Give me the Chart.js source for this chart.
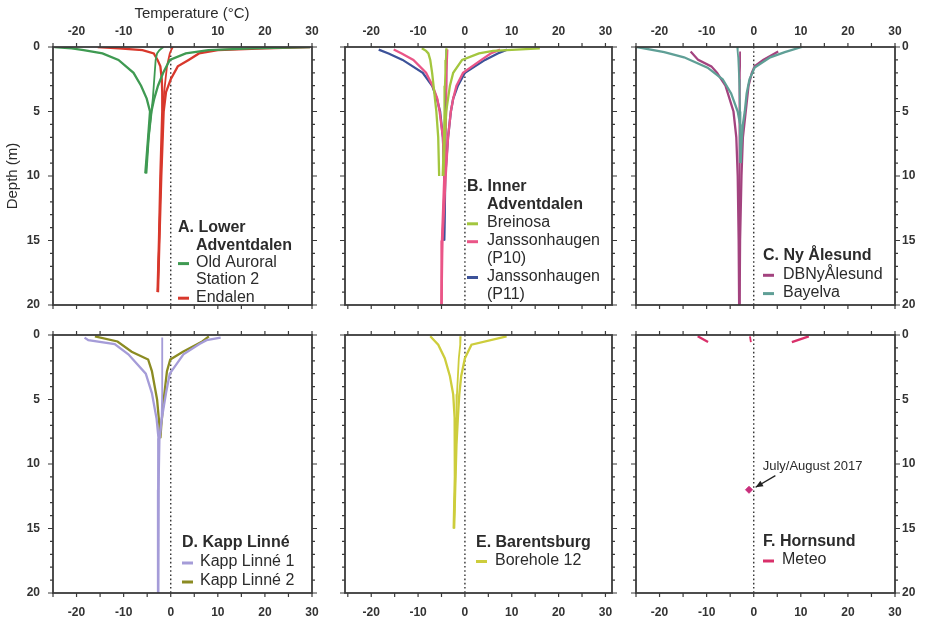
<!DOCTYPE html>
<html>
<head>
<meta charset="utf-8">
<script src="https://cdn.jsdelivr.net/npm/chart.js@4"></script>
<style>
  html, body { margin: 0; padding: 0; background: #fff; }
  #wrap { position: relative; width: 933px; height: 626px; overflow: hidden; }
  #wrap canvas { position: absolute; }
</style>
</head>
<body>
<div id="wrap"></div>
<script>
// Ground temperature envelopes (min / max / mean) vs depth, Svalbard boreholes

// A. Lower Adventdalen
const oldAuroralDepth = [0, 0.1, 0.25, 0.5, 1, 2, 3, 4, 5, 7, 9.8];
const oldAuroralMin   = [-24.7, -21, -18.5, -14.5, -11.1, -7.9, -6.3, -5.1, -4.4, -4.8, -5.4];
const oldAuroralMax   = [29.6, 17, 8, 3.2, -0.2, -1.6, -2.7, -3.5, -4.1, -4.7, -5.2];
const oldAuroralMean  = [-1.5, -1.9, -2.4, -2.9, -3.2, -3.4, -3.6, -3.8, -4.1, -4.7, -5.3];

const endalenDepth = [0, 0.1, 0.25, 0.5, 1, 1.5, 2.5, 3.5, 5, 10, 15, 19];
const endalenMin   = [-15.5, -11, -6, -3.6, -2.8, -2.2, -1.9, -1.8, -1.8, -2.2, -2.5, -2.8];
const endalenMax   = [29.6, 20, 10, 6, 3.8, 1.5, 0, -1.0, -1.5, -2.0, -2.4, -2.7];
const endalenMean  = [0.5, 0.3, 0.1, -0.2, -0.5, -0.8, -1.1, -1.4, -1.6, -2.1, -2.45, -2.75];

// B. Inner Adventdalen
const breinosaDepth = [0.1, 0.3, 0.5, 1, 2, 3, 5, 7, 10];
const breinosaMin   = [-9.2, -8.3, -7.8, -7.4, -7.0, -6.7, -6.1, -5.7, -5.5];
const breinosaMax   = [16, 6, 3, -0.6, -2.5, -3.2, -4.0, -4.3, -4.6];
const breinosaMean  = [-3.9, -4.0, -4.0, -4.1, -4.2, -4.3, -4.4, -4.5, -4.8];

const p10Depth = [0.2, 0.5, 1, 2, 3, 4, 5, 7, 10, 15, 20];
const p10Min   = [-15.2, -13.5, -11.0, -8.3, -6.9, -5.9, -5.4, -4.7, -4.4, -4.9, -5.0];
const p10Max   = [7.5, 5.5, 3.5, -0.4, -1.8, -2.5, -3.0, -3.6, -4.1, -4.8, -5.0];
const p10Mean  = [-3.7, -3.8, -3.8, -3.9, -3.9, -4.0, -4.0, -4.1, -4.3, -4.85, -5.0];

const p11Depth = [0.2, 0.5, 1, 2, 3, 4, 5, 7, 10, 15];
const p11Min   = [-18.4, -16.3, -13.3, -9.0, -7.0, -6.0, -5.3, -4.7, -4.4, -4.5];
const p11Max   = [9, 7, 4.3, 0, -1.5, -2.5, -3.0, -3.6, -4.2, -4.4];
const p11Mean  = [-3.9, -3.9, -4.0, -4.0, -4.0, -4.1, -4.1, -4.2, -4.3, -4.45];

// C. Ny Ålesund
const bayelvaDepth = [0, 0.4, 0.8, 1.6, 2.5, 3.6, 5, 6, 7.5, 9];
const bayelvaMin   = [-24.8, -19, -14.8, -9.8, -6.6, -4.8, -3.4, -2.9, -2.8, -2.8];
const bayelvaMax   = [10.2, 6.6, 3.5, 0.2, -0.9, -1.5, -1.9, -2.3, -2.6, -2.8];
const bayelvaMean  = [-3.5, -3.4, -3.3, -3.2, -3.1, -3.0, -2.9, -2.85, -2.8, -2.8];

const dbNyDepth = [0.35, 1, 1.5, 2, 3, 5, 7, 10, 15, 20];
const dbNyMin   = [-13.4, -11.8, -9.0, -7.8, -6.0, -4.3, -3.7, -3.4, -3.2, -3.1];
const dbNyMax   = [5.2, 2.0, 0.2, -0.4, -1.1, -1.7, -2.3, -2.6, -2.9, -3.0];
const dbNyMean  = [-2.9, -2.9, -2.9, -2.95, -3.0, -3.0, -3.0, -3.05, -3.05, -3.1];

// D. Kapp Linné
const kl1Depth = [0.2, 0.4, 0.7, 1.5, 3, 4.5, 6.5, 8, 12, 20];
const kl1Min   = [-18.3, -17.5, -11.9, -9.0, -5.3, -4.0, -3.0, -2.6, -2.6, -2.7];
const kl1Max   = [10.6, 7.6, 6.1, 2.7, -0.2, -1.0, -1.9, -2.4, -2.6, -2.7];
const kl1Mean  = [-1.8, -1.8, -1.8, -1.8, -1.8, -1.85, -1.95, -2.3, null, null];

const kl2Depth = [0.1, 0.5, 1.3, 1.9, 2.8, 5, 7, 8];
const kl2Min   = [-16.1, -11.3, -8.3, -4.8, -4.0, -2.9, -2.4, -2.3];
const kl2Max   = [8.1, 6.7, 2.6, -0.1, -0.8, -1.5, -2.0, -2.2];

// E. Barentsburg
const bh12Depth = [0.1, 0.75, 1.8, 3.2, 4.6, 6.4, 8.5, 11, 15];
const bh12Min   = [-7.4, -5.7, -4.3, -3.2, -2.5, -2.2, -2.15, -2.15, -2.4];
const bh12Max   = [8.9, 1.4, 0.0, -0.8, -1.2, -1.5, -1.8, -2.0, -2.3];
const bh12Mean  = [-0.9, -1.0, -1.3, -1.5, -1.7, -1.8, -1.95, -2.05, -2.35];

// F. Hornsund
const meteoDepth = [0.1, 0.55];
const meteoMin   = [-11.9, -9.7];
const meteoMax   = [11.7, 8.1];
const meteoMean  = [-0.8, -0.6];
const meteoSummerTemp  = [-1.0];
const meteoSummerDepth = [12];

const xTickLabels = [-20, -10, 0, 10, 20, 30];
const yTickLabels = [0, 5, 10, 15, 20];

const FONT = '"Liberation Sans", Arial, Helvetica, sans-serif';
const INK = '#2b2b2b';

const COLORS = {
  oldAuroral: '#3f9a52',
  endalen: '#d8382c',
  breinosa: '#a3c63e',
  p10: '#ea5587',
  p11: '#3c5299',
  dbNy: '#a3437f',
  bayelva: '#5f9f96',
  kl1: '#a59cd8',
  kl2: '#8b8b22',
  bh12: '#cdcd3c',
  meteo: '#d9306a'
};

function curve(depths, temps, color, width) {
  const pts = [];
  depths.forEach((d, i) => {
    if (temps[i] !== null && temps[i] !== undefined) pts.push({ x: temps[i], y: d });
  });
  return {
    data: pts, borderColor: color, backgroundColor: color,
    borderWidth: width || 2.3, showLine: true, pointRadius: 0, tension: 0, fill: false
  };
}

function borehole(depths, min, max, mean, color) {
  const sets = [curve(depths, min, color), curve(depths, max, color)];
  if (mean) sets.push(curve(depths, mean, color, 1.8));
  return sets;
}

const panels = [
  {
    col: 0, row: 0, L: 53, T: 47, R: 312, B: 305, xmin: -25, xmax: 30,
    datasets: [
      ...borehole(oldAuroralDepth, oldAuroralMin, oldAuroralMax, oldAuroralMean, COLORS.oldAuroral),
      ...borehole(endalenDepth, endalenMin, endalenMax, endalenMean, COLORS.endalen)
    ],
    legend: { x: 178, y: 228, lh: 17.3, indent: 18, rows: [
      { text: 'A. Lower', bold: true },
      { text: 'Adventdalen', bold: true, indent: true },
      { text: 'Old Auroral', color: COLORS.oldAuroral },
      { text: 'Station 2', indent: true },
      { text: 'Endalen', color: COLORS.endalen }
    ] },
    caption: { text: 'Temperature (°C)', x: 192, y: 14 }
  },
  {
    col: 1, row: 0, L: 345, T: 47, R: 612, B: 305, xmin: -25.6, xmax: 31.4,
    datasets: [
      ...borehole(breinosaDepth, breinosaMin, breinosaMax, breinosaMean, COLORS.breinosa),
      ...borehole(p10Depth, p10Min, p10Max, p10Mean, COLORS.p10),
      ...borehole(p11Depth, p11Min, p11Max, p11Mean, COLORS.p11)
    ],
    legend: { x: 467, y: 187, lh: 17.9, indent: 20, rows: [
      { text: 'B. Inner', bold: true },
      { text: 'Adventdalen', bold: true, indent: true },
      { text: 'Breinosa', color: COLORS.breinosa },
      { text: 'Janssonhaugen', color: COLORS.p10 },
      { text: '(P10)', indent: true },
      { text: 'Janssonhaugen', color: COLORS.p11 },
      { text: '(P11)', indent: true }
    ] }
  },
  {
    col: 2, row: 0, L: 636, T: 47, R: 895, B: 305, xmin: -25, xmax: 30,
    datasets: [
      ...borehole(bayelvaDepth, bayelvaMin, bayelvaMax, bayelvaMean, COLORS.bayelva),
      ...borehole(dbNyDepth, dbNyMin, dbNyMax, dbNyMean, COLORS.dbNy)
    ],
    legend: { x: 763, y: 256, lh: 18.3, indent: 20, rows: [
      { text: 'C. Ny Ålesund', bold: true },
      { text: 'DBNyÅlesund', color: COLORS.dbNy },
      { text: 'Bayelva', color: COLORS.bayelva }
    ] }
  },
  {
    col: 0, row: 1, L: 53, T: 335, R: 312, B: 593, xmin: -25, xmax: 30,
    datasets: [
      ...borehole(kl1Depth, kl1Min, kl1Max, kl1Mean, COLORS.kl1),
      ...borehole(kl2Depth, kl2Min, kl2Max, null, COLORS.kl2)
    ],
    legend: { x: 182, y: 543, lh: 19, indent: 18, rows: [
      { text: 'D. Kapp Linné', bold: true },
      { text: 'Kapp Linné 1', color: COLORS.kl1 },
      { text: 'Kapp Linné 2', color: COLORS.kl2 }
    ] }
  },
  {
    col: 1, row: 1, L: 345, T: 335, R: 612, B: 593, xmin: -25.6, xmax: 31.4,
    datasets: [
      ...borehole(bh12Depth, bh12Min, bh12Max, bh12Mean, COLORS.bh12)
    ],
    legend: { x: 476, y: 543, lh: 17.5, indent: 19, rows: [
      { text: 'E. Barentsburg', bold: true },
      { text: 'Borehole 12', color: COLORS.bh12 }
    ] }
  },
  {
    col: 2, row: 1, L: 636, T: 335, R: 895, B: 593, xmin: -25, xmax: 30,
    datasets: [
      ...borehole(meteoDepth, meteoMin, meteoMax, meteoMean, COLORS.meteo),
      {
        data: meteoSummerTemp.map((t, i) => ({ x: t, y: meteoSummerDepth[i] })),
        showLine: false, pointStyle: 'rectRot', pointRadius: 3.5,
        backgroundColor: '#c92f7c', borderColor: '#c92f7c', borderWidth: 1
      }
    ],
    legend: { x: 763, y: 542, lh: 18, indent: 19, rows: [
      { text: 'F. Hornsund', bold: true },
      { text: 'Meteo', color: COLORS.meteo }
    ] },
    note: { text: 'July/August 2017', tx: 1.9, ty: 10.2, fromT: 4.6, fromD: 10.9, toT: 0.4, toD: 11.8 }
  }
];

// frame, outward ticks on all four sides, dotted 0 °C line
const framePlugin = {
  id: 'frame',
  beforeDatasetsDraw(chart) {
    const { ctx, chartArea: a, scales: { x } } = chart;
    const x0 = x.getPixelForValue(0);
    ctx.save();
    ctx.strokeStyle = '#333';
    ctx.lineWidth = 1.4;
    ctx.setLineDash([1.6, 2.6]);
    ctx.beginPath();
    ctx.moveTo(x0, a.top);
    ctx.lineTo(x0, a.bottom);
    ctx.stroke();
    ctx.restore();
  },
  afterDraw(chart) {
    const { ctx, chartArea: a, scales: { x, y } } = chart;
    ctx.save();
    ctx.strokeStyle = '#3a3a3a';
    ctx.lineWidth = 1.2;
    ctx.beginPath();
    for (let v = Math.ceil(x.min / 5) * 5; v <= x.max + 1e-6; v += 5) {
      const px = x.getPixelForValue(v);
      ctx.moveTo(px, a.top); ctx.lineTo(px, a.top - 4);
      ctx.moveTo(px, a.bottom); ctx.lineTo(px, a.bottom + 4);
    }
    for (let d = 0; d <= 20; d++) {
      const py = y.getPixelForValue(d);
      const len = d % 5 === 0 ? 5 : 3;
      ctx.moveTo(a.left, py); ctx.lineTo(a.left - len, py);
      ctx.moveTo(a.right, py); ctx.lineTo(a.right + len, py);
    }
    ctx.stroke();
    ctx.lineWidth = 1.8;
    ctx.strokeRect(a.left, a.top, a.right - a.left, a.bottom - a.top);
    ctx.restore();
  }
};

// panel legend: bold site title, then coloured dash + borehole name
const legendPlugin = {
  id: 'boreLegend',
  afterDraw(chart, args, opts) {
    if (!opts.rows) return;
    const { ctx, chartArea: a } = chart;
    const x = opts.x - opts.L + a.left;
    let y = opts.y - opts.T + a.top;
    ctx.save();
    ctx.textBaseline = 'middle';
    ctx.fillStyle = INK;
    opts.rows.forEach(r => {
      ctx.font = (r.bold ? 'bold ' : '') + '16px ' + FONT;
      const tx = (r.indent || r.color) ? x + opts.indent : x;
      if (r.color) {
        ctx.strokeStyle = r.color;
        ctx.lineWidth = 3;
        ctx.beginPath();
        ctx.moveTo(x, y + 1);
        ctx.lineTo(x + 11, y + 1);
        ctx.stroke();
      }
      ctx.fillText(r.text, tx, y);
      y += opts.lh;
    });
    ctx.restore();
  }
};

// x axis caption above panel A (sits a little right of the panel centre)
const captionPlugin = {
  id: 'caption',
  afterDraw(chart, args, opts) {
    if (!opts.text) return;
    const { ctx, chartArea: a } = chart;
    ctx.save();
    ctx.fillStyle = INK;
    ctx.font = '15px ' + FONT;
    ctx.textAlign = 'center';
    ctx.textBaseline = 'middle';
    ctx.fillText(opts.text, opts.x - opts.L + a.left, opts.y - opts.T + a.top);
    ctx.restore();
  }
};

// text label with an arrow pointing at the summer measurement
const notePlugin = {
  id: 'note',
  afterDatasetsDraw(chart, args, opts) {
    if (!opts.text) return;
    const { ctx, scales: { x, y } } = chart;
    const fx = x.getPixelForValue(opts.fromT), fy = y.getPixelForValue(opts.fromD);
    const tx = x.getPixelForValue(opts.toT), ty = y.getPixelForValue(opts.toD);
    ctx.save();
    ctx.fillStyle = INK;
    ctx.font = '13px ' + FONT;
    ctx.textBaseline = 'middle';
    ctx.fillText(opts.text, x.getPixelForValue(opts.tx), y.getPixelForValue(opts.ty));
    ctx.strokeStyle = '#222';
    ctx.lineWidth = 1.3;
    ctx.beginPath();
    ctx.moveTo(fx, fy);
    ctx.lineTo(tx, ty);
    ctx.stroke();
    const ang = Math.atan2(ty - fy, tx - fx);
    ctx.beginPath();
    ctx.moveTo(tx, ty);
    ctx.lineTo(tx - 8 * Math.cos(ang - 0.4), ty - 8 * Math.sin(ang - 0.4));
    ctx.lineTo(tx - 8 * Math.cos(ang + 0.4), ty - 8 * Math.sin(ang + 0.4));
    ctx.closePath();
    ctx.fillStyle = '#222';
    ctx.fill();
    ctx.restore();
  }
};

// keep the plot boxes at fixed sizes: no extra room for edge labels
function noEdgePadding(s) {
  s.paddingLeft = 0;
  s.paddingRight = 0;
  s.paddingTop = 0;
  s.paddingBottom = 0;
}

Chart.defaults.font.family = FONT;
Chart.defaults.color = INK;

const wrap = document.getElementById('wrap');

panels.forEach(p => {
  const padL = p.col === 0 ? p.L : 14;
  const padR = p.col === 2 ? 38 : 14;
  const padT = p.row === 0 ? p.T : 14;
  const padB = p.row === 1 ? 626 - p.B : 14;
  const w = (p.R - p.L) + padL + padR;
  const h = (p.B - p.T) + padT + padB;

  const canvas = document.createElement('canvas');
  canvas.width = w;
  canvas.height = h;
  canvas.style.left = (p.L - padL) + 'px';
  canvas.style.top = (p.T - padT) + 'px';
  canvas.style.width = w + 'px';
  canvas.style.height = h + 'px';
  wrap.appendChild(canvas);

  const isA = p.col === 0 && p.row === 0;
  const tickFont = { size: 12, weight: 'bold', family: FONT };
  // width taken by the y axis box: labels left in column 0, right in column 2, none in the middle
  const yAxisWidth = p.col === 0 ? padL : (p.col === 2 ? padR : 0);

  new Chart(canvas.getContext('2d'), {
    type: 'scatter',
    data: { datasets: p.datasets },
    plugins: [framePlugin, legendPlugin, notePlugin, captionPlugin],
    options: {
      responsive: false,
      animation: false,
      devicePixelRatio: 1,
      layout: {
        padding: {
          left: p.col === 0 ? 0 : padL,
          right: p.col === 2 ? 0 : padR,
          top: p.row === 1 ? padT : 0,
          bottom: p.row === 0 ? padB : 0
        }
      },
      plugins: {
        legend: { display: false },
        tooltip: { enabled: false },
        boreLegend: Object.assign({ L: p.L, T: p.T }, p.legend),
        note: p.note || {},
        caption: Object.assign({ L: p.L, T: p.T }, p.caption || {})
      },
      scales: {
        x: {
          type: 'linear',
          position: p.row === 0 ? 'top' : 'bottom',
          min: p.xmin,
          max: p.xmax,
          grid: { display: false, drawTicks: false },
          border: { display: false },
          ticks: { font: tickFont, color: '#333', padding: p.row === 0 ? 8 : 12, maxRotation: 0, autoSkip: false },
          afterBuildTicks: s => { s.ticks = xTickLabels.map(v => ({ value: v })); },
          afterFit: s => { s.height = p.row === 0 ? padT : padB; noEdgePadding(s); }
        },
        y: {
          type: 'linear',
          display: p.col !== 1,
          position: p.col === 2 ? 'right' : 'left',
          reverse: true,
          min: 0,
          max: 20,
          grid: { display: false, drawTicks: false },
          border: { display: false },
          ticks: { font: tickFont, color: '#333', padding: p.col === 0 ? 13 : 7 },
          afterBuildTicks: s => { s.ticks = yTickLabels.map(v => ({ value: v })); },
          afterFit: s => { s.width = yAxisWidth; noEdgePadding(s); },
          title: {
            display: isA,
            text: 'Depth (m)',
            font: { size: 15, family: FONT },
            color: INK,
            padding: { top: 4, bottom: 0 }
          }
        }
      }
    }
  });
});
</script>
</body>
</html>
